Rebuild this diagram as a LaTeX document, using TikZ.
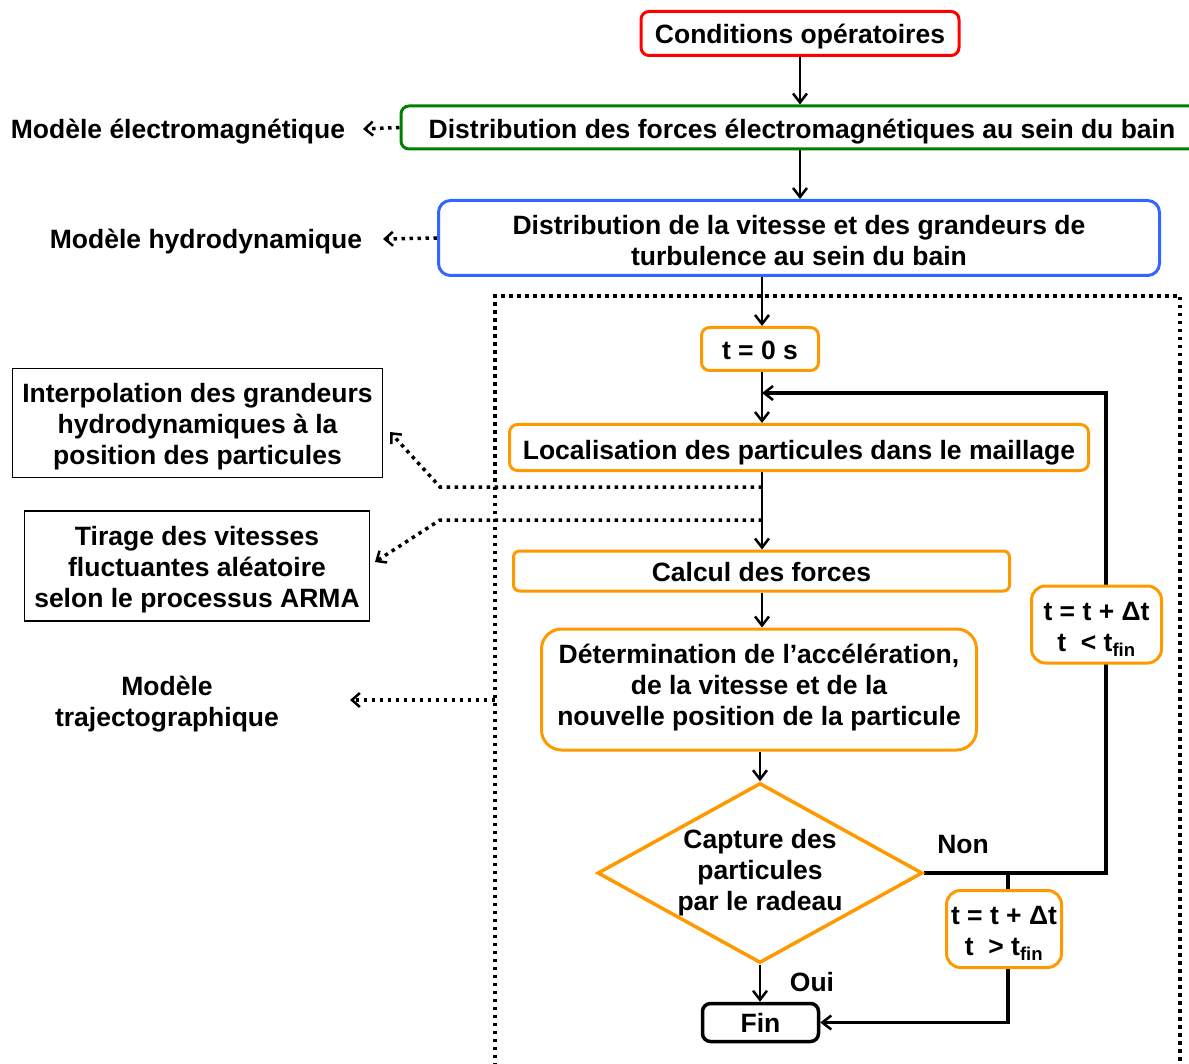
\documentclass[tikz,border=0pt]{standalone}
\usepackage{fontspec}
\setmainfont{Liberation Sans}
\usetikzlibrary{arrows.meta,shapes.geometric,backgrounds}
\definecolor{cred}{RGB}{255,0,0}
\definecolor{cgreen}{RGB}{0,128,0}
\definecolor{cblue}{RGB}{51,102,255}
\definecolor{corange}{RGB}{255,153,0}
\newcommand\topst[1][34]{\rule{0pt}{#1pt}}
\newcommand\botst[1]{\rule[-#1pt]{0pt}{#1pt}}
\tikzset{
  box/.style={draw, line width=3pt, rounded corners=8pt, align=center, inner sep=0pt, fill=white,
    font=\fontsize{26.5}{31}\selectfont\bfseries},
  obox/.style={box, draw=corange},
  plainbox/.style={draw, line width=1.8pt, align=center, inner sep=0pt,
    font=\fontsize{26.5}{31}\selectfont\bfseries},
  lbl/.style={align=center, inner sep=0pt, font=\fontsize{26.5}{31}\selectfont\bfseries},
  arr/.style={line width=2.8pt, -{Straight Barb[length=9pt,width=14pt,line width=2.5pt]}},
  looparr/.style={line width=3.5pt, -{Straight Barb[length=9pt,width=14pt,line width=2.5pt]}},
  dotline/.style={line width=3.5pt, dash pattern=on 3.5pt off 4.5pt},
  dotarr/.style={line width=3.5pt, dash pattern=on 3.5pt off 4.5pt, -{Straight Barb[length=8pt,width=14pt,line width=2.5pt]}},
}
\begin{document}
\begin{tikzpicture}[x=1pt,y=-1pt]
\useasboundingbox (0,0) rectangle (1189,1064);

% main chain
\node[box, draw=cred, minimum width=318pt, minimum height=44pt] (cond) at (800,33.5) {\topst[26]Conditions opératoires\botst{5.4}};
\node[box, draw=cgreen, minimum width=802pt, minimum height=43pt] (em) at (802,127.5) {\topst[30]Distribution des forces électromagnétiques au sein du bain\botst{8}};
\node[box, draw=cblue, minimum width=721pt, minimum height=71pt, rounded corners=12pt] (hy) at (799,238) {\topst Distribution de la vitesse et des grandeurs de\\turbulence au sein du bain\botst{10}};
\node[obox, minimum width=117pt, minimum height=43pt] (t0) at (760,349) {\topst[26]t = 0 s\botst{5}};
\node[obox, minimum width=579pt, minimum height=46pt] (loc) at (799,447.5) {\topst[30]Localisation des particules dans le maillage\botst{6}};
\node[obox, minimum width=496pt, minimum height=40pt, rounded corners=6pt] (calc) at (761.5,571) {\topst[26]Calcul des forces\botst{5}};
\node[obox, minimum width=435pt, minimum height=121pt, rounded corners=20pt] (det) at (759,689.5) {\topst Détermination de l’accélération,\\de la vitesse et de la\\nouvelle position de la particule\botst{24}};
\node[draw=corange, line width=3.5pt, shape=diamond, aspect=1.8, minimum width=325pt, minimum height=180pt, inner sep=0pt, fill=white] (dia) at (760,873) {};
\node[lbl] (diat) at (dia.center) {\topst Capture des\\particules\\par le radeau\botst{22}};
\node[box, draw=black, line width=3.5pt, minimum width=116pt, minimum height=38pt] (fin) at (760.5,1022.5) {\topst[26]Fin\botst{7}};
\node[obox, minimum width=130pt, minimum height=77pt, rounded corners=14pt] (tlt) at (1096.5,624.5) {\topst t = t + Δt\\t~~< t\textsubscript{fin}\botst{11}};
\node[obox, minimum width=115pt, minimum height=74pt, rounded corners=14pt] (tgt) at (1004,929) {\topst t = t + Δt\\t~~> t\textsubscript{fin}\botst{12}};

% side boxes and labels
\node[plainbox, minimum width=370pt, minimum height=106pt] (interp) at (197.5,423) {\topst Interpolation des grandeurs\\hydrodynamiques à la\\position des particules\botst{13}};
\node[plainbox, minimum width=345pt, minimum height=107pt] (tirage) at (197,566) {\topst Tirage des vitesses\\fluctuantes aléatoire\\selon le processus ARMA\botst{14}};
\node[lbl] (mem) at (178,129) {\topst Modèle électromagnétique\botst{15}};
\node[lbl] (mhy) at (206,239) {\topst Modèle hydrodynamique\botst{15}};
\node[lbl] (mtr) at (167,701) {\topst Modèle\\trajectographique\botst{15}};
\node[lbl] (non) at (963,844) {\topst Non\botst{15}};
\node[lbl] (oui) at (812,982) {\topst Oui\botst{15}};

% coordinates
\coordinate (merge) at (762,393);
\coordinate (lx) at (1106,393);
\coordinate (jx) at (1008,873);
\coordinate (emtip) at (363,129);
\coordinate (hytip) at (383,239);
\coordinate (d1s) at (762,487);
\coordinate (d1k) at (440,487);
\coordinate (d1e) at (390,432);
\coordinate (d2s) at (762,520);
\coordinate (d2k) at (440,520);
\coordinate (d2e) at (375,562);
\coordinate (trs) at (495,700);
\coordinate (tre) at (350,700);
\coordinate (fbl) at (495,1090);
\coordinate (ftl) at (495,296);
\coordinate (ftr) at (1180,296);
\coordinate (fbr) at (1180,1090);

\begin{scope}[on background layer]
\draw[dotline] (fbl) -- (ftl) -- (ftr) -- (fbr);
\draw[arr] (cond.south) -- (cond.south |- em.north);
\draw[arr] (cond.south |- em.south) -- (cond.south |- hy.north);
\draw[arr] (merge |- hy.south) -- (merge |- t0.north);
\draw[arr] (merge |- t0.south) -- (merge |- loc.north);
\draw[arr] (merge |- loc.south) -- (merge |- calc.north);
\draw[arr] (merge |- calc.south) -- (merge |- det.north);
\draw[arr] (det.south -| dia.north) -- (dia.north);
\draw[arr] (dia.south) -- (fin.north -| dia.south);
\draw[looparr] (dia.east) -- (dia.east -| lx) -- (lx) -- (merge);
\draw[looparr] (jx) -- (jx |- fin.east) -- (fin.east);
\draw[dotarr] (em.west) -- (emtip);
\draw[dotarr] (hy.west) -- (hytip);
\draw[dotarr] (d1s) -- (d1k) -- (d1e);
\draw[dotarr] (d2s) -- (d2k) -- (d2e);
\draw[dotarr] (trs) -- (tre);
\end{scope}
\end{tikzpicture}
\end{document}
